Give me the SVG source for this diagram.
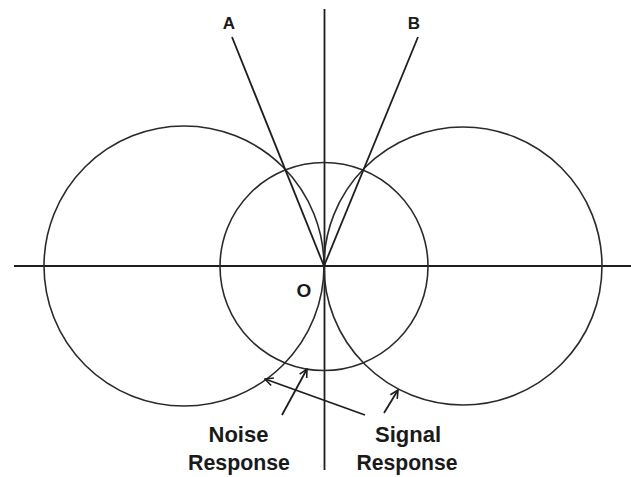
<svg xmlns="http://www.w3.org/2000/svg" width="631" height="477" viewBox="0 0 631 477">
<style>
.ln{stroke:#1e1e1e;stroke-width:1.8;fill:none}
.c{stroke:#2a2a2a;stroke-width:1.6;fill:none}
.lbl{font-family:"Liberation Sans",Arial,sans-serif;font-weight:bold;fill:#1a1a1a}
</style>
<defs>
<marker id="ah" viewBox="0 0 10 10" refX="9" refY="5" markerWidth="10" markerHeight="10" markerUnits="userSpaceOnUse" orient="auto">
<path d="M1,1 L9,5 L1,9" fill="none" stroke="#1e1e1e" stroke-width="1.6"/>
</marker>
</defs>
<rect width="631" height="477" fill="#fff"/>
<g id="axes">
<line class="ln" x1="14" y1="266" x2="631" y2="266"/>
<line class="ln" x1="324.5" y1="9" x2="324.5" y2="470"/>
</g>
<g id="left-circle"><circle class="c" cx="184" cy="266" r="140"/></g>
<g id="right-circle"><circle class="c" cx="463" cy="266" r="139"/></g>
<g id="middle-circle"><circle class="c" cx="324" cy="266.5" r="104"/></g>
<g id="connectors">
<line class="ln" x1="232" y1="37" x2="324" y2="266"/>
<line class="ln" x1="418" y1="37" x2="324" y2="266"/>
<line class="ln" x1="282" y1="415" x2="307" y2="369" marker-end="url(#ah)"/>
<line class="ln" x1="365" y1="415" x2="265" y2="379" marker-end="url(#ah)"/>
<line class="ln" x1="384" y1="413" x2="398" y2="390" marker-end="url(#ah)"/>
</g>
<g id="label-A"><text class="lbl" x="229" y="29" font-size="17" text-anchor="middle">A</text></g>
<g id="label-B"><text class="lbl" x="414" y="29" font-size="17" text-anchor="middle">B</text></g>
<g id="label-O"><text class="lbl" x="304" y="297" font-size="19" text-anchor="middle">O</text></g>
<g id="noise-label">
<text class="lbl" x="238.5" y="442" font-size="22" text-anchor="middle">Noise</text>
<text class="lbl" x="239" y="470" font-size="22" text-anchor="middle" textLength="102" lengthAdjust="spacingAndGlyphs">Response</text>
</g>
<g id="signal-label">
<text class="lbl" x="408" y="442" font-size="22" text-anchor="middle">Signal</text>
<text class="lbl" x="407" y="470" font-size="22" text-anchor="middle" textLength="101" lengthAdjust="spacingAndGlyphs">Response</text>
</g>
</svg>
